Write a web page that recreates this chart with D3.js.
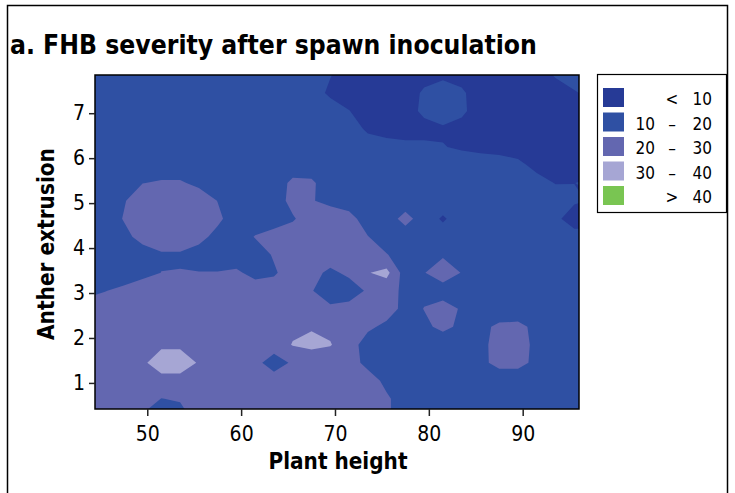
<!DOCTYPE html>
<html>
<head>
<meta charset="utf-8">
<script src="https://cdn.jsdelivr.net/npm/d3@7"></script>
<style>
  body { margin: 0; background: #fff; }
  text { font-family: "DejaVu Sans Condensed", "DejaVu Sans", sans-serif; font-stretch: condensed; fill: #000; }
</style>
</head>
<body>
<div id="chart"></div>
<script>
// grid columns (plant height) and rows (anther extrusion, top to bottom)
const plantHeight = [43.5, 45.5, 47.5, 49.5, 51.5, 53.5, 55.5, 57.5, 59.5, 61.5, 63.5, 65.5, 67.5, 69.5,
  71.5, 73.5, 75.5, 77.5, 79.5, 81.5, 83.5, 85.5, 87.5, 89.5, 91.5, 93.5, 95.5, 97.5];
const antherExtrusion = [8.25, 7.85, 7.45, 7.05, 6.65, 6.25, 5.85, 5.45, 5.05, 4.65, 4.25,
  3.85, 3.45, 3.05, 2.65, 2.25, 1.85, 1.45, 1.05, 0.65, 0.25];

// FHB severity, one row per anther extrusion value
const severity = [
  [15,15,15,15,15,15,15,15,15,15,15,15,15,14,7,5,5,5,5,6,5,5,5,5,12,15,15,15],
  [15,15,15,15,15,15,15,15,15,15,15,15,15,10.5,5,5,5,5,6.5,7.9,6.5,5,5,5,5,11,15,15],
  [15,15,15,15,15,15,15,15,15,15,15,15,15,8,5,5,5,5,11.5,15,11.5,5,5,5,5,5,9,13],
  [15,15,15,15,15,15,15,15,15,15,15,15,15,15,10.3,5,5,5,12.5,15,12,5,5,5,5,5,5,7],
  [15,15,15,15,15,15,15,15,15,15,15,15,15,15,15,8.3,5,5,6,8.75,6.5,5,5,5,5,5,5,5],
  [15,15,15,15,15,15,15,15,15,15,15,15,15,15,15,15,15,13,12.4,10.4,8.75,7.3,5.9,5,5,5,5,5],
  [15,15,15,15,15,15,15,15,15,15,15,15,15,15,15,15,15,15,15,15,15,15,15,12.5,7,5,5,5],
  [15,15,17.5,19.8,21,21,18,17.5,15,15,15,22,21.5,15,15,15,15,15,15,15,15,15,15,15,13.7,9.6,9.9,12],
  [15,15,19.3,25,25,25,25,19.8,15,15,15,23,20.5,17.9,15,15,15,14.5,15,15,15,15,15,15,15,15,11.5,9],
  [15,15,20.5,25,25,25,25,22,15,15,15,19,25,25,23.6,15,15,23.5,15,8.75,15,15,15,15,15,12.7,4,4],
  [15,15,17.5,23,25,25,23,17,15,20.5,24,25,25,25,25,20.3,15,14.5,15,15,15,15,15,15,15,15,15,15],
  [15,15,15,16,19,19,16,16,15,15,21,25,25,25,25,25,20.5,15,18.3,18.5,18.3,15,15,15,15,15,15,15],
  [15,15,15,17.3,20.1,20.3,20.3,20.3,21.5,17,18.75,25,23,18,22,29.5,33,15,19.5,27,19.5,15,15,15,15,15,15,15],
  [16.7,19.7,22.1,25,25,25,25,25,25,25,25,25,20.5,15,15,21.3,23,18.3,18.3,14,18.3,15,15,15,15,15,15,15],
  [25,25,25,25,25,25,25,25,25,25,25,25,25,21.7,23.3,25,25,16.7,20.2,25,18.75,15,15,15,15,15,15,15],
  [25,25,25,25,25,25,25,25,25,25,25,28,29,28,25,22.1,17.5,15,18.3,22,18.3,18,21.5,22,18,15,15,15],
  [25,25,25,25,29,29,25,25,25,25,25,30.5,33,30.5,25,15,15,15,15,15,15,15,27,28.5,15,15,15,15],
  [25,25,25,29,33,33,29.5,25,25,23,15,21.5,22,25,25,16.7,15,15,15,15,15,18,22.5,22.5,18,15,15,15],
  [25,25,25,25,28,28,25,25,25,25,25,25,25,25,25,25,17.3,15,15,15,15,15,15,15,15,15,15,15],
  [25,25,25,25,19.8,21,25,25,25,25,25,25,25,25,25,25,21.5,15,15,15,15,15,15,15,15,15,15,15],
  [25,25,25,19,13,16,24,25,25,25,25,25,25,25,25,25,21.5,15,15,15,15,15,15,15,15,15,15,15]
];

const bandBreaks = [0, 10, 20, 30, 40];
const bandColors = ["#263a96", "#2f50a3", "#6367b0", "#a6a6d4", "#79c552"];
const bandLabels = [["", "<", "10"], ["10", "–", "20"], ["20", "–", "30"], ["30", "–", "40"], ["", ">", "40"]];

const xTicks = [50, 60, 70, 80, 90];
const yTicks = [1, 2, 3, 4, 5, 6, 7];

const W = 735, H = 493;
const plot = { left: 95, right: 579, top: 75, bottom: 409 };

const svg = d3.select("#chart").append("svg").attr("width", W).attr("height", H);

// outer frame
svg.append("rect")
  .attr("x", 7.5).attr("y", 5.5).attr("width", 720).attr("height", 500)
  .attr("fill", "none").attr("stroke", "#000").attr("stroke-width", 1.5);

function fitText(sel, width) {
  const w = sel.node().getComputedTextLength();
  sel.attr("font-size", parseFloat(sel.attr("font-size")) * width / w);
}

const title = svg.append("text")
  .attr("x", 10).attr("y", 54)
  .attr("font-size", 24).attr("font-weight", "bold")
  .text("a. FHB severity after spawn inoculation");
fitText(title, 527);

const x = d3.scaleLinear().domain([44.43, 96.0]).range([plot.left, plot.right]);
const y = d3.scaleLinear().domain([0.42, 7.85]).range([plot.bottom, plot.top]);

// contour bands
const nx = plantHeight.length, ny = antherExtrusion.length;
const stepX = plantHeight[1] - plantHeight[0];
const stepY = antherExtrusion[0] - antherExtrusion[1];
const bands = d3.contours().size([nx, ny]).thresholds(bandBreaks)(severity.flat());

const toPlot = d3.geoTransform({
  point(gx, gy) {
    this.stream.point(
      x(plantHeight[0] + (gx - 0.5) * stepX),
      y(antherExtrusion[0] - (gy - 0.5) * stepY)
    );
  }
});
const path = d3.geoPath(toPlot);

svg.append("clipPath").attr("id", "plot-clip")
  .append("rect")
  .attr("x", plot.left).attr("y", plot.top)
  .attr("width", plot.right - plot.left).attr("height", plot.bottom - plot.top);

svg.append("g")
  .attr("clip-path", "url(#plot-clip)")
  .selectAll("path")
  .data(bands)
  .join("path")
  .attr("d", path)
  .attr("fill", (d, i) => bandColors[i]);

svg.append("rect")
  .attr("x", plot.left).attr("y", plot.top)
  .attr("width", plot.right - plot.left).attr("height", plot.bottom - plot.top)
  .attr("fill", "none").attr("stroke", "#000").attr("stroke-width", 1.5);

// axes
const xAxis = svg.append("g")
  .attr("transform", `translate(0,${plot.bottom})`)
  .call(d3.axisBottom(x).tickValues(xTicks).tickSize(7).tickPadding(10));
const yAxis = svg.append("g")
  .attr("transform", `translate(${plot.left},0)`)
  .call(d3.axisLeft(y).tickValues(yTicks).tickSize(6).tickPadding(4));

[xAxis, yAxis].forEach(g => {
  g.select(".domain").remove();
  g.selectAll(".tick line").attr("stroke", "#222").attr("stroke-width", 1.5);
  g.selectAll(".tick text")
    .attr("font-size", 21)
    .attr("font-family", null)
    .attr("fill", "#111");
});

const xLabel = svg.append("text")
  .attr("x", 338).attr("y", 469)
  .attr("text-anchor", "middle")
  .attr("font-size", 21).attr("font-weight", "bold")
  .text("Plant height");
fitText(xLabel, 139);

const yLabel = svg.append("text")
  .attr("transform", "translate(54,244) rotate(-90)")
  .attr("text-anchor", "middle")
  .attr("font-size", 21).attr("font-weight", "bold")
  .text("Anther extrusion");
fitText(yLabel, 192);

// legend
const legend = svg.append("g");
legend.append("rect")
  .attr("x", 597.5).attr("y", 74.5).attr("width", 129).attr("height", 138)
  .attr("fill", "#fff").attr("stroke", "#000").attr("stroke-width", 1.2);

const rowStep = 24.5;
bandColors.forEach((c, i) => {
  const top = 88 + i * rowStep;
  legend.append("rect")
    .attr("x", 603).attr("y", top).attr("width", 21).attr("height", 19)
    .attr("fill", c);
  const lab = bandLabels[i];
  const base = top + 17;
  legend.append("text").attr("x", 655).attr("y", base)
    .attr("text-anchor", "end").attr("font-size", 17).text(lab[0]);
  legend.append("text").attr("x", 672).attr("y", base)
    .attr("text-anchor", "middle").attr("font-size", 17).text(lab[1]);
  legend.append("text").attr("x", 712).attr("y", base)
    .attr("text-anchor", "end").attr("font-size", 17).text(lab[2]);
});
</script>
</body>
</html>
